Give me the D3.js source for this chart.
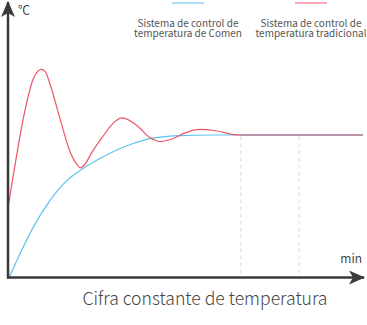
<!DOCTYPE html>
<html>
<head>
<meta charset="utf-8">
<script src="https://cdn.jsdelivr.net/npm/d3@7"></script>
<style>
  html, body { margin: 0; padding: 0; background: #fff; }
  svg { display: block; }
  text { font-family: "Noto Sans CJK SC", "Noto Sans", sans-serif; }
</style>
</head>
<body>
<svg id="chart" width="367" height="325"></svg>
<script>
// ---- data (time in arbitrary units, temperature as % of setpoint) ----
const seriesNames = ["Sistema de control de temperatura de Comen", "Sistema de control de temperatura tradicional"];
const legendLines1 = ["Sistema de control de", "temperatura de Comen"];
const legendLines2 = ["Sistema de control de", "temperatura tradicional"];
const comenX = [0.02, 0.21, 0.43, 0.72, 1.01, 1.29, 1.58, 1.87, 2.15, 2.44, 2.73, 2.96, 3.5, 4.5, 6.1];
const comenY = [0, 17, 35, 54, 68, 76.5, 83.5, 89.5, 94, 97.5, 99, 99.6, 100, 100, 100];
const tradX = [0, 0.08, 0.29, 0.43, 0.52, 0.57, 0.64, 0.72, 0.89, 1.06, 1.19, 1.24, 1.29, 1.46, 1.63, 1.80, 1.96, 2.22, 2.44, 2.61, 2.84, 3.01, 3.3, 3.57, 3.85, 4.0, 4.6, 5.3, 6.1];
const tradY = [49, 69, 117, 139, 145, 146, 144.5, 136, 112, 89, 79, 77, 78, 89, 99, 108, 112, 106.5, 98, 95.4, 97.5, 101, 104, 103, 100.5, 100, 100, 100, 100];
const gridX = [4, 5];
const steadyY = 100;
const xLabel = "min";
const yLabel = "℃";
const title = "Cifra constante de temperatura";

const svg = d3.select("#chart");
const x = d3.scaleLinear().domain([0, 6.1]).range([8, 363]);
const y = d3.scaleLinear().domain([0, 190]).range([277.5, 6.75]);

// arrow marker
const defs = svg.append("defs");
defs.append("marker")
  .attr("id", "arrow")
  .attr("viewBox", "0 0 16 14")
  .attr("refX", 15).attr("refY", 7)
  .attr("markerWidth", 16).attr("markerHeight", 14)
  .attr("markerUnits", "userSpaceOnUse")
  .attr("orient", "auto")
  .append("path")
  .attr("d", "M0,0 L16,7 L0,14 L4,7 Z")
  .attr("fill", "#3a3a3a");

// dashed grid lines
svg.selectAll("line.grid").data(gridX).enter().append("line")
  .attr("class", "grid")
  .attr("x1", d => x(d)).attr("x2", d => x(d))
  .attr("y1", y(steadyY) + 1.5).attr("y2", y(0))
  .attr("stroke", "#dcdcdc").attr("stroke-width", 1)
  .attr("stroke-dasharray", "4,3");

// curves
const line = d3.line().x(d => x(d[0])).y(d => y(d[1])).curve(d3.curveMonotoneX);
const comen = comenX.map((v, i) => [v, comenY[i]]);
const trad = tradX.map((v, i) => [v, tradY[i]]);

svg.append("path").datum(comen).attr("d", line)
  .attr("fill", "none").attr("stroke", "#5cc3ee").attr("stroke-width", 1.2);
svg.append("path").datum(trad).attr("d", line)
  .attr("fill", "none").attr("stroke", "#ee5566").attr("stroke-width", 1.2);
// steady overlap tint
svg.append("line")
  .attr("x1", x(4)).attr("x2", x(6.1))
  .attr("y1", y(steadyY)).attr("y2", y(steadyY))
  .attr("stroke", "#8a8aa8").attr("stroke-width", 1.2).attr("stroke-opacity", 0.6);

// axes
const [x0, x1] = x.range();
const [y0, y1] = y.range();
svg.append("line").attr("x1", x0).attr("y1", y0 + 1).attr("x2", x0).attr("y2", 2)
  .attr("stroke", "#3a3a3a").attr("stroke-width", 2.5).attr("marker-end", "url(#arrow)");
svg.append("line").attr("x1", x0 - 1).attr("y1", y0).attr("x2", 364).attr("y2", y0)
  .attr("stroke", "#3a3a3a").attr("stroke-width", 2.5).attr("marker-end", "url(#arrow)");

// axis labels
svg.append("text").attr("x", 362).attr("y", 263).attr("text-anchor", "end")
  .attr("font-size", 12).attr("fill", "#444").text(xLabel);
svg.append("text").attr("x", 18).attr("y", 14.5)
  .attr("font-size", 12).attr("fill", "#444").text(yLabel);

// title
svg.append("text").attr("x", 205).attr("y", 305).attr("text-anchor", "middle")
  .attr("font-size", 17.6).attr("font-weight", 300).attr("fill", "#444").text(title);

// legend
const legend = [
  { cx: 188, color: "#a9dff3", lines: legendLines1 },
  { cx: 311, color: "#f7aab2", lines: legendLines2 }
];
legend.forEach(l => {
  svg.append("line").attr("x1", l.cx - 16).attr("x2", l.cx + 16)
    .attr("y1", 3).attr("y2", 3).attr("stroke", l.color).attr("stroke-width", 2);
  l.lines.forEach((t, i) => {
    svg.append("text").attr("x", l.cx).attr("y", 27 + i * 10)
      .attr("text-anchor", "middle").attr("font-size", 10).attr("fill", "#555").text(t);
  });
});
</script>
</body>
</html>
